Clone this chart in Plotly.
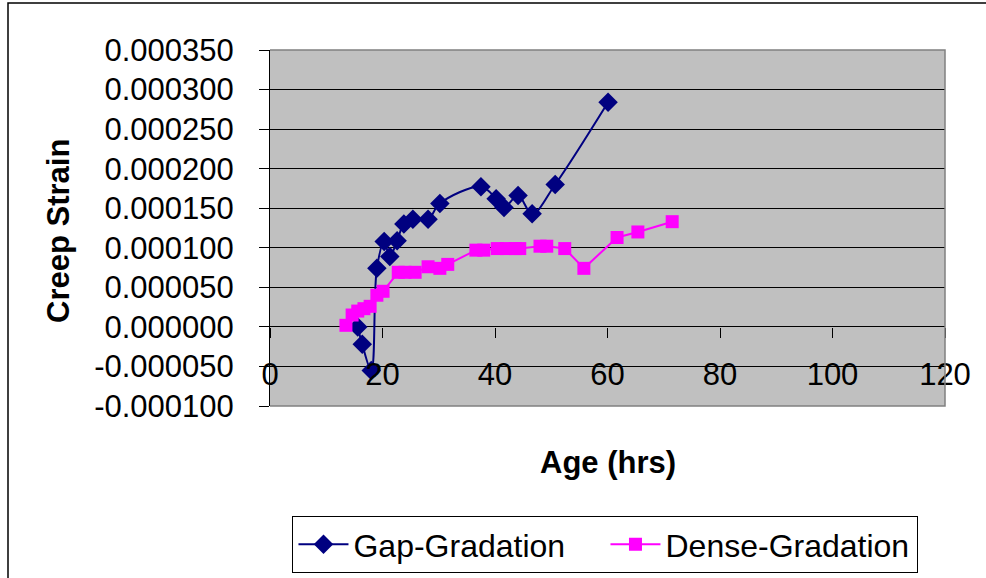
import plotly.graph_objects as go

gap_age = [15.6, 16.4, 18.0, 19.0, 20.3, 21.3, 22.6, 23.8, 25.4, 28.1, 30.2,
           37.5, 40.2, 41.6, 44.1, 46.6, 50.7, 60.1]
gap_strain = [0.0, -0.000022, -0.000055, 0.000074, 0.000108, 0.000089, 0.000109,
              0.000130, 0.000136, 0.000136, 0.000156, 0.000177, 0.000162,
              0.000151, 0.000166, 0.000143, 0.000180, 0.000284]

dense_age = [13.5, 14.6, 15.6, 16.7, 17.8, 19.0, 20.1, 22.8, 24.0, 25.8, 28.1,
             30.2, 31.6, 36.6, 38.0, 40.4, 42.0, 43.6, 44.4, 48.0, 49.2, 52.4,
             55.8, 61.7, 65.4, 71.5]
dense_strain = [0.000002, 0.000015, 0.000020, 0.000023, 0.000026, 0.000040,
                0.000045, 0.000069, 0.000069, 0.000069, 0.000076, 0.000074,
                0.000079, 0.000097, 0.000097, 0.000099, 0.000099, 0.000099,
                0.000099, 0.000102, 0.000102, 0.000099, 0.000074, 0.000113,
                0.000120, 0.000133]

y_ticks = [-0.0001, -0.00005, 0.0, 0.00005, 0.0001, 0.00015, 0.0002, 0.00025,
           0.0003, 0.00035]
y_tick_text = ["-0.000100", "-0.000050", "0.000000", "0.000050", "0.000100",
               "0.000150", "0.000200", "0.000250", "0.000300", "0.000350"]
x_ticks = [0, 20, 40, 60, 80, 100, 120]

FONT = "Liberation Sans, Arial, sans-serif"
YMIN, YMAX = -0.0001, 0.00035

fig = go.Figure()
fig.add_trace(go.Scatter(
    x=gap_age, y=gap_strain, name="Gap-Gradation", mode="lines+markers",
    line=dict(color="#000080", width=2, shape="spline", smoothing=1.0),
    marker=dict(symbol="diamond", size=15, color="#000080"),
))
fig.add_trace(go.Scatter(
    x=dense_age, y=dense_strain, name="Dense-Gradation", mode="lines+markers",
    line=dict(color="#FF00FF", width=2),
    marker=dict(symbol="square", size=13, color="#FF00FF"),
))

zero_pos = (0 - YMIN) / (YMAX - YMIN)

fig.update_layout(
    width=986, height=578,
    margin=dict(l=270, r=41, t=50, b=172, autoexpand=False),
    paper_bgcolor="white", plot_bgcolor="#C0C0C0",
    font=dict(family=FONT, size=31, color="black"),
    showlegend=True,
    legend=dict(orientation="h", x=0.497, xanchor="center", y=-0.309,
                yanchor="top", bgcolor="white", bordercolor="black",
                borderwidth=1, font=dict(size=32, family=FONT),
                itemwidth=50, tracegroupgap=0,
                entrywidth=247, entrywidthmode="pixels"),
    xaxis=dict(range=[0, 120], tickvals=x_ticks, anchor="free",
               position=zero_pos, showgrid=False, zeroline=False,
               showline=False, ticks="outside", ticklen=10, tickwidth=1,
               tickcolor="black", ticklabelstandoff=10,
               tickfont=dict(size=31, family=FONT)),
    yaxis=dict(range=[YMIN, YMAX], tickvals=y_ticks, ticktext=y_tick_text,
               showgrid=True, gridcolor="black", gridwidth=1, zeroline=False,
               showline=True, linecolor="black", linewidth=1,
               ticks="outside", ticklen=10, tickwidth=1, tickcolor="black",
               ticklabelstandoff=19, tickfont=dict(size=31, family=FONT)),
    annotations=[
        dict(text="<b>Age (hrs)</b>", xref="paper", yref="paper", x=0.5,
             y=-0.160, xanchor="center", yanchor="middle", showarrow=False,
             font=dict(size=31, family=FONT)),
        dict(text="<b>Creep Strain</b>", xref="paper", yref="paper",
             x=-0.3126, y=0.4916, xanchor="center", yanchor="middle",
             textangle=-90, showarrow=False, font=dict(size=31, family=FONT)),
    ],
    shapes=[
        dict(type="path", xref="paper", yref="paper",
             path="M 0,1 L 1,1 L 1,0 L 0,0", line=dict(color="#808080", width=1.5),
             layer="above"),
        dict(type="rect", xref="paper", yref="paper",
             x0=(8 - 270) / 675, x1=(992 - 270) / 675,
             y0=(406 - 584) / 356, y1=(406 - 3) / 356,
             line=dict(color="black", width=1.5), layer="below"),
    ],
)

fig.write_html("out.html")
